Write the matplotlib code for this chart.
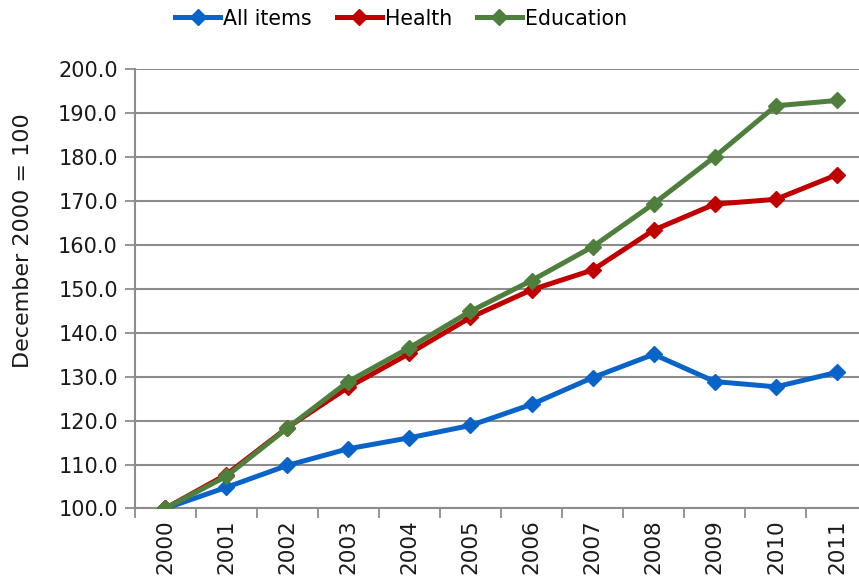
import matplotlib
matplotlib.use("Agg")
import matplotlib.pyplot as plt
from matplotlib.ticker import FixedLocator, NullFormatter

years = ["2000", "2001", "2002", "2003", "2004", "2005",
         "2006", "2007", "2008", "2009", "2010", "2011"]
all_items = [100.0, 104.8, 109.8, 113.6, 116.1, 118.9,
             123.7, 129.8, 135.1, 128.9, 127.7, 131.0]
health = [100.0, 107.7, 118.4, 127.6, 135.3, 143.5,
          149.8, 154.3, 163.4, 169.3, 170.4, 176.0]
education = [100.0, 107.3, 118.3, 128.9, 136.6, 144.9,
             151.9, 159.6, 169.4, 180.1, 191.7, 192.9]

series_names = ["All items", "Health", "Education"]
series_colors = ["#0A64C8", "#C00000", "#4F7F3D"]

plt.rcParams["font.family"] = ["DejaVu Sans"]

fig = plt.figure(figsize=(8.59, 5.81), dpi=100)
ax = fig.add_axes([0.1566, 0.1248, 0.8533, 0.7559])

x = list(range(len(years)))
for vals, name, col in zip([all_items, health, education], series_names, series_colors):
    ax.plot(x, vals, color=col, lw=3.6, marker="D", ms=8.5,
            markeredgecolor=col, label=name, solid_joinstyle="miter", zorder=3)

ax.set_xlim(-0.5, len(years) - 0.5)
ax.set_ylim(100, 200)
ax.set_yticks(range(100, 201, 10))
ax.set_yticklabels([f"{v:.1f}" for v in range(100, 201, 10)], fontsize=15, color="#1a1a1a")

ax.set_xticks(x)
ax.set_xticklabels(years, rotation=90, fontsize=15.5, color="#1a1a1a")
ax.tick_params(axis="x", which="major", length=0, pad=8)
ax.xaxis.set_minor_locator(FixedLocator([i - 0.5 for i in range(len(years) + 1)]))
ax.xaxis.set_minor_formatter(NullFormatter())
ax.tick_params(axis="x", which="minor", length=7, width=1.3, color="#8c8c8c")
ax.tick_params(axis="y", length=7, width=1.3, color="#8c8c8c", pad=5)

ax.grid(axis="y", color="#8c8c8c", lw=1.5, zorder=0)
ax.set_axisbelow(True)
for side in ["top", "right"]:
    ax.spines[side].set_visible(False)
for side in ["left", "bottom"]:
    ax.spines[side].set_color("#8c8c8c")
    ax.spines[side].set_linewidth(1.5)

ax.set_ylabel("December 2000 = 100", fontsize=16, color="#1a1a1a")
ax.yaxis.set_label_coords(-0.138, 0.61)

fig.legend(loc="center", bbox_to_anchor=(0.467, 0.968), ncol=3, frameon=False,
           fontsize=14.8, handlelength=2.2, handletextpad=0.15, columnspacing=1.2)

fig.savefig("out.png", dpi=100)
